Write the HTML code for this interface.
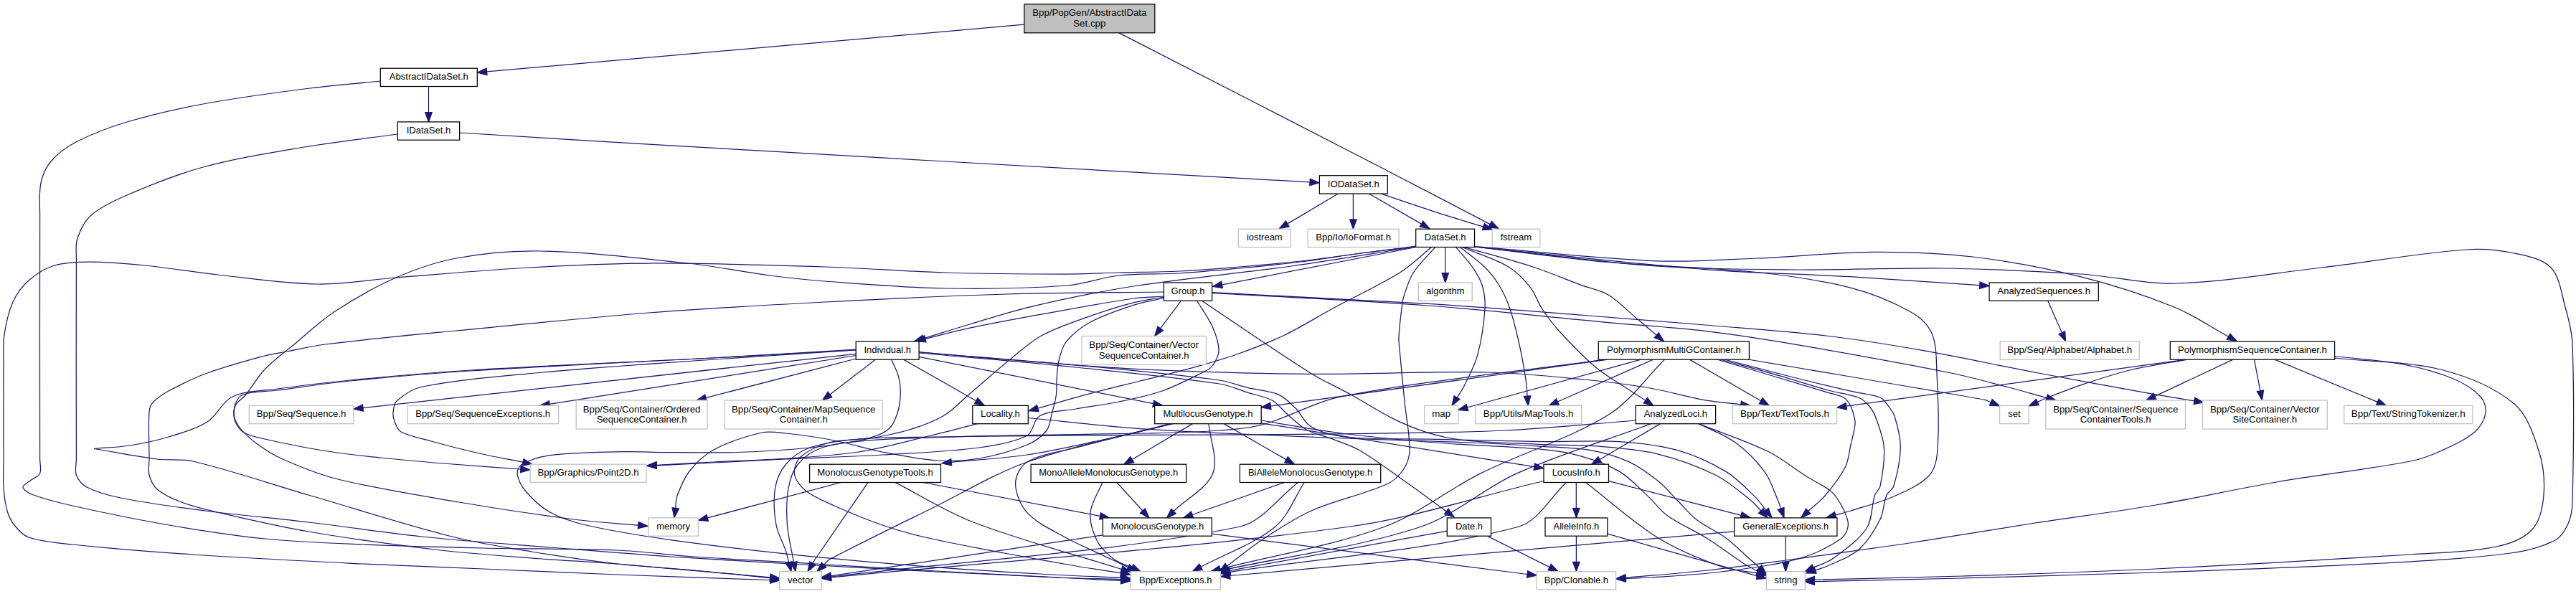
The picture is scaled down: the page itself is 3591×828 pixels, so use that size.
<!DOCTYPE html>
<html><head><meta charset="utf-8"><title>Bpp/PopGen/AbstractIDataSet.cpp include graph</title>
<style>html,body{margin:0;padding:0;background:#fff}svg{display:block}</style></head>
<body>
<svg width="3591" height="828" viewBox="0 0 3591 828">
<rect width="3591" height="828" fill="#fff"/>
<g fill="none" stroke="#191970" stroke-width="1.25">
<path d="M1427.8,34.2 L678.5,99.9"/>
<path d="M1559.5,45.6 C1682.4,108.7 1805.4,171.7 1928.2,235.0 C1978.0,260.7 2027.5,286.7 2077.2,312.6"/>
<path d="M597.5,120.3 L597.5,156.7"/>
<path d="M530.0,113.0 C494.7,116.7 459.2,119.4 424.0,124.0 C376.9,130.1 329.7,136.3 283.0,145.0 C247.3,151.6 211.7,159.6 177.0,170.0 C152.7,177.3 128.4,186.4 106.0,198.0 C93.0,204.7 80.3,214.1 71.0,225.0 C64.0,233.1 59.2,244.4 57.0,255.0 C54.0,269.4 55.7,285.0 55.6,300.0 C55.2,413.3 55.6,526.7 55.6,640.0 C55.6,646.7 58.1,654.6 55.6,660.0 C53.5,664.6 46.4,666.5 42.0,670.0 C38.5,672.8 31.7,676.1 32.0,679.0 C32.4,682.4 39.2,687.2 44.0,689.0 C62.2,695.9 81.8,700.7 101.0,705.0 C145.8,715.0 190.8,724.3 236.0,732.0 C280.5,739.6 325.1,746.5 370.0,751.0 C414.8,755.5 460.0,757.1 505.0,759.0 C561.0,761.4 617.0,762.7 673.0,764.0 C735.3,765.4 797.7,764.5 860.0,767.0 C896.1,768.5 932.0,773.5 968.0,776.0 C1024.3,779.9 1080.7,782.7 1137.0,786.0 C1193.0,789.3 1249.0,792.8 1305.0,796.0 C1361.0,799.2 1417.0,802.1 1473.0,805.0 C1502.9,806.5 1532.8,807.9 1562.7,809.4"/>
<path d="M640.6,185.0 C727.1,190.3 813.5,195.7 900.0,200.8 C1033.3,208.7 1166.7,216.3 1300.0,224.0 C1475.3,234.1 1650.7,244.0 1826.0,253.9"/>
<path d="M554.0,187.0 C510.7,193.0 467.1,197.7 424.0,205.0 C376.8,213.0 329.1,220.5 283.0,233.0 C246.8,242.8 211.5,257.2 177.0,272.0 C159.5,279.5 140.9,287.9 127.0,300.0 C117.9,307.9 111.9,320.6 108.0,332.0 C105.0,340.6 106.4,350.7 106.4,360.0 C105.9,453.3 106.4,546.7 106.4,640.0 C106.4,647.3 104.0,655.6 106.4,662.0 C108.9,668.6 114.6,675.7 121.0,679.0 C135.1,686.3 151.9,690.8 168.0,694.0 C206.9,701.8 246.6,706.9 286.0,712.0 C333.9,718.2 382.0,722.3 430.0,728.0 C486.0,734.6 541.9,743.2 598.0,749.0 C654.2,754.8 710.7,758.5 767.0,763.0 C823.0,767.5 879.0,772.2 935.0,776.0 C991.0,779.8 1047.0,782.8 1103.0,786.0 C1170.3,789.8 1237.7,793.5 1305.0,797.0 C1361.0,799.9 1417.0,802.7 1473.0,805.0 C1502.9,806.2 1532.8,806.7 1562.7,807.6"/>
<path d="M1908.8,270.2 L1981.5,312.1"/>
<path d="M1886.4,270.2 L1886.4,305.9"/>
<path d="M1865.0,270.2 L1794.8,311.9"/>
<path d="M1925.6,270.2 C1950.0,278.4 1974.4,286.9 1998.9,294.8 C2021.8,302.2 2044.8,309.0 2067.8,316.1"/>
<path d="M2014.6,344.5 L2014.7,380.7"/>
<path d="M1974.0,343.0 C1948.3,346.3 1922.7,349.7 1897.0,353.0 C1869.0,356.7 1841.1,360.8 1813.0,364.0 C1784.7,367.2 1756.4,369.7 1728.0,372.0 C1700.0,374.3 1672.0,376.7 1644.0,378.0 C1616.0,379.3 1588.0,379.3 1560.0,380.0 C1535.7,380.6 1511.3,382.0 1487.0,382.0 C1430.7,382.0 1374.3,381.7 1318.0,380.0 C1262.0,378.3 1206.0,373.8 1150.0,372.0 C1068.4,369.4 986.7,366.8 905.0,367.0 C849.0,367.1 792.9,369.8 737.0,373.0 C675.3,376.5 613.7,382.2 552.0,387.0 C516.0,389.8 480.0,396.6 444.0,396.0 C397.0,395.2 349.9,388.0 303.0,383.0 C269.3,379.4 235.8,373.4 202.0,370.0 C176.8,367.4 151.3,365.0 126.0,365.0 C109.3,365.0 91.7,365.3 76.0,370.0 C63.0,373.9 50.2,382.0 40.0,391.0 C30.9,399.0 23.0,409.9 18.0,421.0 C11.7,434.9 8.4,450.8 6.0,466.0 C4.1,477.8 5.1,490.0 5.0,502.0 C4.7,548.0 5.0,594.0 5.0,640.0 C5.0,653.0 4.1,666.1 5.0,679.0 C5.8,690.1 7.0,701.4 10.0,712.0 C12.0,719.1 15.4,726.3 20.0,732.0 C25.4,738.7 32.0,746.3 40.0,749.0 C59.0,755.3 80.5,756.9 101.0,759.0 C156.9,764.9 212.9,769.3 269.0,773.0 C347.6,778.3 426.3,782.1 505.0,786.0 C561.0,788.8 617.0,790.6 673.0,793.0 C735.3,795.6 797.7,798.6 860.0,801.0 C931.2,803.8 1002.5,806.0 1073.7,808.5"/>
<path d="M2029.8,344.8 C2037.4,353.9 2045.8,362.4 2052.5,372.1 C2057.9,379.9 2063.3,388.3 2066.0,397.3 C2069.1,407.6 2070.7,419.1 2070.0,430.0 C2068.6,451.8 2065.4,474.2 2059.6,495.3 C2055.4,510.9 2047.1,525.4 2040.0,540.0 C2037.6,545.0 2034.1,549.4 2031.1,554.1"/>
<path d="M2056.0,344.0 C2140.3,353.0 2224.5,365.1 2309.0,371.0 C2376.1,375.7 2443.7,375.5 2511.0,376.0 C2578.3,376.5 2645.7,373.0 2713.0,374.0 C2775.4,375.0 2837.8,377.9 2900.0,382.0 C2944.8,384.9 2989.4,396.2 3034.0,395.0 C3101.4,393.2 3168.7,380.8 3236.0,373.0 C3303.4,365.2 3370.6,353.0 3438.0,348.0 C3460.3,346.3 3483.3,348.4 3505.0,353.0 C3522.7,356.7 3544.6,360.9 3556.0,373.0 C3568.2,385.9 3570.8,409.3 3576.0,428.0 C3580.8,444.9 3585.4,462.4 3586.0,480.0 C3588.7,553.1 3587.8,626.8 3586.0,700.0 C3585.8,710.2 3584.1,721.0 3580.0,730.0 C3576.1,738.6 3570.3,748.7 3562.0,753.0 C3543.6,762.4 3521.2,768.2 3500.0,771.0 C3441.2,778.8 3381.4,781.8 3322.0,785.0 C3216.4,790.8 3110.7,794.2 3005.0,798.0 C2915.0,801.2 2825.0,803.6 2735.0,806.0 C2666.4,807.8 2597.9,809.1 2529.3,810.7"/>
<path d="M2000.4,344.8 C1990.3,356.7 1978.2,367.5 1970.0,380.5 C1963.6,390.6 1960.3,402.8 1956.6,414.2 C1955.0,419.3 1954.6,424.7 1954.0,430.0 C1952.4,443.3 1950.5,456.7 1950.0,470.0 C1949.7,478.3 1951.1,486.7 1951.8,495.0 C1953.7,516.7 1955.9,538.3 1958.0,560.0 C1960.3,582.7 1965.5,605.6 1965.0,628.0 C1964.8,637.3 1961.2,647.4 1956.0,655.0 C1950.5,663.1 1942.2,670.9 1933.0,675.0 C1899.5,689.9 1861.7,697.0 1828.0,712.0 C1804.1,722.6 1782.0,737.6 1760.0,752.0 C1742.8,763.3 1727.1,776.7 1710.6,789.0"/>
<path d="M2035.7,344.8 C2046.9,353.9 2059.1,362.0 2069.4,372.0 C2077.1,379.5 2084.0,388.1 2089.6,397.3 C2095.8,407.5 2100.8,418.7 2104.7,430.0 C2110.3,446.3 2114.2,463.2 2118.0,480.0 C2121.6,496.2 2124.5,512.6 2127.0,529.0 C2128.2,536.7 2128.4,544.4 2129.1,552.2"/>
<path d="M1974.0,344.0 C1948.3,347.0 1922.6,349.7 1897.0,353.0 C1869.0,356.7 1841.1,361.5 1813.0,365.0 C1784.7,368.5 1756.4,371.3 1728.0,374.0 C1700.0,376.6 1672.0,379.3 1644.0,381.0 C1616.0,382.7 1587.8,381.0 1560.0,384.0 C1535.4,386.7 1511.6,396.2 1487.0,398.0 C1431.0,402.2 1374.3,403.0 1318.0,402.0 C1262.0,401.0 1205.9,396.1 1150.0,392.0 C1124.3,390.1 1098.6,387.3 1073.0,384.0 C1034.9,379.0 997.2,371.1 959.0,367.0 C890.9,359.7 822.3,351.5 754.0,350.0 C714.7,349.1 674.6,352.9 636.0,360.0 C607.3,365.3 578.8,375.3 552.0,387.0 C522.5,399.9 494.0,416.3 467.0,434.0 C446.7,447.3 428.8,464.4 410.0,480.0 C396.2,491.4 381.4,502.1 369.0,515.0 C358.7,525.8 351.5,539.4 342.0,551.0 C338.1,555.7 332.1,559.0 329.0,564.0 C326.8,567.6 326.0,572.7 326.0,577.0 C326.0,581.3 326.9,586.2 329.0,590.0 C331.6,594.9 335.2,600.4 340.0,603.0 C348.5,607.7 359.1,609.8 369.0,612.0 C395.8,618.1 422.8,623.6 450.0,628.0 C476.5,632.3 503.3,635.1 530.0,638.0 C559.3,641.1 588.6,643.6 618.0,646.0 C653.9,648.9 689.8,651.3 725.7,654.0"/>
<path d="M1974.0,344.5 L1703.6,396.9"/>
<path d="M1974.0,344.0 C1916.0,353.0 1858.1,362.9 1800.0,371.0 C1726.8,381.2 1653.0,387.6 1580.0,399.0 C1531.7,406.5 1483.6,416.7 1436.0,427.8 C1407.6,434.4 1379.9,443.7 1352.0,452.0 C1330.4,458.4 1308.9,465.3 1287.3,471.9"/>
<path d="M1995.3,344.8 C1980.7,356.5 1967.3,370.2 1951.4,380.0 C1921.2,398.7 1888.4,413.5 1857.0,430.5 C1834.5,442.7 1812.9,456.5 1789.8,467.5 C1768.0,477.9 1745.2,486.5 1722.4,494.5 C1700.3,502.2 1677.6,508.5 1655.0,514.7 C1632.7,520.8 1610.1,525.9 1587.7,531.5 C1565.3,537.1 1542.7,542.4 1520.4,548.4 C1495.8,555.0 1471.3,562.2 1446.8,569.1"/>
<path d="M2055.5,343.8 C2117.7,351.0 2179.7,359.9 2242.0,365.5 C2309.2,371.6 2377.0,372.0 2444.0,379.0 C2489.2,383.7 2534.9,389.7 2578.8,400.8 C2607.9,408.2 2637.1,420.0 2663.0,434.5 C2675.2,441.3 2687.6,452.4 2693.0,464.8 C2700.0,480.9 2699.1,501.5 2700.0,520.0 C2701.7,556.6 2703.6,593.9 2700.7,630.0 C2699.8,641.8 2696.4,655.6 2688.5,663.7 C2676.1,676.3 2657.0,684.4 2640.0,692.0 C2620.8,700.5 2600.1,705.6 2580.0,712.0 C2573.0,714.2 2565.9,716.0 2558.8,718.0"/>
<path d="M2042.4,344.8 C2073.8,353.9 2105.6,361.9 2136.7,372.0 C2159.5,379.4 2181.5,389.0 2204.0,397.3 C2216.6,402.0 2230.6,404.1 2242.0,411.0 C2256.8,419.9 2269.0,433.4 2282.4,444.6 C2291.4,452.1 2300.3,459.7 2309.3,467.2"/>
<path d="M2055.5,343.6 C2140.1,350.3 2224.7,360.3 2309.4,363.8 C2356.2,365.7 2403.2,361.9 2450.0,360.0 C2504.2,357.8 2558.3,351.7 2612.4,351.3 C2658.3,351.0 2704.5,352.6 2750.0,358.0 C2800.4,364.0 2850.8,373.4 2900.0,385.7 C2944.3,396.8 2988.4,410.9 3030.7,428.0 C3057.3,438.7 3081.2,455.4 3106.5,469.2"/>
<path d="M2039.0,344.8 C2060.3,353.9 2083.3,360.4 2103.0,372.0 C2114.8,379.0 2124.8,390.0 2133.4,400.7 C2140.3,409.3 2143.3,420.8 2149.4,430.0 C2156.8,441.2 2164.9,452.1 2174.0,462.0 C2190.0,479.4 2206.4,496.9 2224.6,512.0 C2240.1,524.9 2258.1,534.8 2275.0,546.0 C2281.2,550.1 2287.6,554.1 2293.8,558.2"/>
<path d="M2055.5,344.0 C2162.6,354.5 2269.5,367.1 2376.7,375.6 C2443.9,381.0 2511.5,381.8 2578.8,385.7 C2639.2,389.2 2699.5,393.7 2759.8,397.6"/>
<path d="M1622.0,407.0 C1549.0,408.0 1476.0,407.8 1403.0,410.0 C1318.6,412.5 1234.3,416.6 1150.0,421.0 C1068.3,425.3 986.6,429.7 905.0,436.0 C815.2,443.0 725.6,452.3 636.0,461.0 C575.0,466.9 513.8,472.5 453.0,480.0 C435.2,482.2 417.7,486.6 400.0,490.0 C389.7,492.0 379.2,493.3 369.0,496.0 C342.2,503.3 315.1,510.5 289.0,520.0 C270.4,526.8 252.4,535.6 235.0,545.0 C227.1,549.3 219.0,554.6 213.0,561.0 C210.0,564.3 208.3,569.4 208.0,574.0 C206.6,595.7 208.0,618.0 208.0,640.0 C208.0,647.3 206.2,655.1 208.0,662.0 C209.9,669.1 213.4,677.3 219.0,682.0 C228.4,689.9 241.1,695.5 253.0,700.0 C269.1,706.1 286.1,710.1 303.0,714.0 C345.1,723.8 387.4,733.7 430.0,741.0 C488.4,751.0 547.2,759.0 606.0,766.0 C650.8,771.3 696.0,774.5 741.0,778.0 C780.6,781.1 820.4,782.8 860.0,786.0 C931.3,791.7 1002.5,798.6 1073.8,804.8"/>
<path d="M1622.4,415.5 C1608.3,418.8 1593.8,420.8 1580.0,425.3 C1559.8,431.9 1539.0,438.7 1520.4,448.8 C1507.9,455.6 1495.8,465.2 1486.7,475.8 C1481.2,482.2 1478.9,491.6 1476.6,500.0 C1474.4,508.1 1474.0,516.8 1473.3,525.3 C1472.6,533.7 1473.5,542.2 1472.4,550.5 C1471.2,559.0 1468.8,567.4 1466.5,575.8 C1464.3,583.9 1463.9,593.7 1459.0,600.0 C1452.4,608.4 1442.2,615.8 1432.0,620.0 C1410.9,628.8 1387.7,635.0 1365.0,639.0 C1346.4,642.3 1326.9,643.3 1308.0,642.0 C1281.9,640.3 1255.8,635.0 1230.0,630.0 C1207.5,625.7 1185.5,618.4 1163.0,614.0 C1140.9,609.7 1118.4,606.4 1096.0,604.0 C1084.7,602.8 1072.9,600.5 1062.0,603.0 C1039.2,608.2 1015.6,616.0 995.0,627.0 C981.9,634.0 970.2,645.4 961.0,657.0 C953.2,666.7 948.4,679.3 944.0,691.0 C942.0,696.4 942.5,702.6 941.7,708.4"/>
<path d="M1622.4,414.0 C1608.3,416.6 1593.9,418.3 1580.0,421.9 C1559.9,427.1 1540.0,433.4 1520.4,440.4 C1497.6,448.5 1474.1,456.0 1453.0,467.3 C1437.1,475.8 1423.5,488.6 1409.3,500.0 C1389.8,515.7 1371.2,532.6 1352.0,548.8 C1339.6,559.3 1328.5,571.9 1314.6,580.0 C1299.1,589.0 1281.4,595.0 1264.0,600.0 C1242.2,606.3 1219.4,610.0 1197.0,614.0 C1174.8,618.0 1152.5,621.8 1130.0,624.0 C1096.1,627.3 1062.0,629.4 1028.0,630.5 C994.4,631.6 960.7,630.7 927.0,630.5 C907.2,630.4 887.5,629.2 867.7,629.7 C834.0,630.6 799.9,630.4 766.7,634.7 C752.7,636.5 737.6,641.5 726.3,648.2 C722.5,650.5 720.5,657.3 721.3,661.7 C722.7,669.6 727.4,678.6 733.0,685.0 C742.5,696.0 754.0,706.9 766.7,714.0 C782.0,722.6 799.7,728.0 817.0,732.0 C855.8,740.9 895.5,747.0 935.0,752.6 C991.0,760.6 1047.2,766.9 1103.5,772.8 C1165.6,779.3 1227.8,784.7 1290.0,789.6 C1343.3,793.8 1396.6,796.9 1450.0,800.0 C1487.5,802.2 1524.9,803.6 1562.4,805.4"/>
<path d="M1668.5,419.3 C1675.7,431.2 1684.4,442.4 1690.0,455.0 C1694.6,465.3 1699.0,477.2 1699.0,488.0 C1699.0,495.5 1694.5,503.9 1690.0,510.0 C1686.5,514.6 1680.4,517.3 1675.0,520.0 C1657.0,529.0 1638.9,538.4 1620.0,545.0 C1600.6,551.7 1580.2,555.8 1560.0,560.0 C1540.2,564.1 1520.0,566.4 1500.0,570.0 C1483.0,573.1 1463.0,572.4 1449.0,580.0 C1440.4,584.7 1440.8,602.4 1432.0,607.0 C1412.8,617.0 1387.8,621.0 1365.0,624.0 C1320.4,630.0 1275.0,631.3 1230.0,634.0 C1185.4,636.7 1140.7,637.9 1096.0,640.0 C1062.3,641.6 1028.7,643.3 995.0,645.0 C968.4,646.3 941.9,647.6 915.3,648.9"/>
<path d="M1646.5,419.2 L1617.6,457.9"/>
<path d="M1689.6,408.3 C1789.7,414.2 1890.0,418.5 1990.0,426.0 C2074.1,432.3 2158.0,441.9 2242.0,449.6 C2286.9,453.7 2332.0,456.1 2376.7,461.4 C2421.8,466.8 2466.7,474.0 2511.4,481.6 C2581.1,493.5 2650.7,506.0 2720.0,520.0 C2746.9,525.4 2773.4,533.1 2800.0,540.0 C2817.8,544.6 2835.4,549.7 2853.2,554.5"/>
<path d="M1689.6,407.6 C1789.7,412.9 1889.9,417.2 1990.0,423.4 C2062.9,427.9 2135.6,433.9 2208.4,439.5 C2264.5,443.8 2320.6,448.3 2376.7,453.0 C2432.8,457.8 2489.1,461.5 2545.0,468.0 C2590.1,473.3 2635.0,480.5 2679.8,488.4 C2733.8,497.9 2787.5,509.8 2841.4,520.0 C2894.3,530.0 2947.4,539.7 3000.4,549.2 C3019.8,552.7 3039.4,555.6 3058.9,558.8"/>
<path d="M1622.4,413.0 C1608.3,414.0 1594.0,413.9 1580.0,416.0 C1537.5,422.2 1495.3,430.3 1453.0,437.9 C1419.3,444.0 1385.5,450.1 1352.0,457.2 C1331.2,461.6 1310.6,467.3 1289.9,472.3"/>
<path d="M1675.3,419.3 C1725.8,452.9 1775.5,487.7 1826.8,520.0 C1844.8,531.3 1864.4,539.7 1883.0,550.0 C1902.8,560.9 1921.7,573.6 1942.0,583.6 C1958.2,591.6 1975.2,598.6 1992.5,603.8 C2008.9,608.7 2026.0,612.2 2043.0,613.9 C2078.5,617.5 2114.3,618.0 2150.0,619.6 C2176.9,620.8 2204.0,620.1 2230.8,622.3 C2257.9,624.6 2285.5,626.5 2311.7,633.1 C2339.4,640.0 2367.1,650.0 2392.5,662.7 C2410.2,671.5 2425.4,685.4 2441.0,697.8 C2446.2,701.9 2450.2,707.3 2454.8,712.0"/>
<path d="M1193.0,487.0 C1132.3,490.7 1071.7,494.7 1011.0,498.0 C892.7,504.4 774.3,508.8 656.0,516.0 C599.9,519.4 543.9,524.6 488.0,530.0 C454.3,533.3 420.6,537.3 387.0,542.0 C365.9,545.0 342.4,544.4 324.0,553.0 C309.7,559.7 302.7,579.4 289.0,588.0 C273.0,598.1 253.4,603.4 235.0,609.0 C217.4,614.4 199.2,618.1 181.0,621.0 C164.5,623.6 147.7,624.0 131.0,625.5"/>
<path d="M131.0,625.5 C160.3,630.3 189.5,636.3 219.0,640.0 C235.5,642.1 252.8,639.2 269.0,643.0 C323.2,655.8 376.3,674.4 430.0,690.0 C496.7,709.4 562.8,730.9 630.0,748.0 C666.5,757.3 703.9,762.9 741.0,769.0 C780.5,775.5 820.2,781.4 860.0,786.0 C895.9,790.1 932.0,791.7 968.0,795.0 C1003.3,798.2 1038.5,802.1 1073.8,805.7"/>
<path d="M1193.0,488.0 C1132.3,491.3 1071.7,494.7 1011.0,498.0 C892.7,504.4 774.3,509.5 656.0,517.0 C599.9,520.5 543.9,525.4 488.0,531.0 C454.2,534.4 420.7,539.5 387.0,544.0 C370.3,546.2 350.8,544.6 337.0,551.0 C330.5,554.0 326.9,564.7 326.0,572.0 C325.2,578.7 328.1,587.1 332.0,593.0 C338.1,602.1 347.0,610.2 356.0,617.0 C367.7,625.9 380.5,634.0 394.0,640.0 C418.9,651.0 444.5,661.5 471.0,668.0 C526.5,681.5 583.5,690.4 640.0,700.0 C693.2,709.0 746.5,717.1 800.0,724.0 C829.8,727.8 859.8,729.5 889.8,732.2"/>
<path d="M1242.6,501.3 C1246.0,509.3 1250.6,517.0 1252.7,525.3 C1254.8,533.4 1255.5,542.1 1255.2,550.5 C1254.9,559.0 1253.6,567.8 1251.0,575.8 C1248.6,583.3 1245.6,591.9 1240.0,597.0 C1233.0,603.3 1222.6,607.7 1213.0,610.0 C1194.6,614.4 1174.2,611.9 1156.0,617.0 C1141.8,620.9 1126.3,627.7 1116.0,637.0 C1110.1,642.3 1106.4,653.5 1107.5,661.0 C1108.7,669.2 1116.0,678.4 1123.0,684.0 C1134.5,693.1 1149.3,698.8 1163.0,705.0 C1184.9,714.8 1207.3,724.1 1230.0,732.0 C1249.6,738.8 1269.8,744.4 1290.0,749.0 C1326.4,757.4 1363.3,764.0 1400.0,771.0 C1433.3,777.3 1466.6,783.3 1500.0,789.0 C1520.8,792.6 1541.7,795.6 1562.6,798.9"/>
<path d="M1193.0,488.0 C1132.3,492.0 1071.6,495.7 1011.0,500.0 C926.3,506.0 841.5,511.2 757.0,519.0 C700.9,524.2 643.7,528.3 589.0,539.0 C575.7,541.6 562.6,550.4 553.0,559.0 C548.9,562.7 548.4,570.3 548.0,576.0 C547.7,580.6 549.2,585.7 551.0,590.0 C552.8,594.3 554.9,599.9 559.0,602.0 C571.5,608.3 586.9,611.1 601.0,615.0 C623.2,621.1 645.5,626.8 668.0,632.0 C688.2,636.6 708.6,640.2 729.0,644.4"/>
<path d="M1281.1,490.5 C1320.7,494.0 1360.3,497.9 1400.0,501.0 C1462.5,505.9 1525.1,511.7 1587.7,514.7 C1666.2,518.5 1744.9,520.7 1823.5,521.4 C1906.7,522.1 1989.9,517.4 2073.0,519.0 C2118.0,519.9 2162.9,524.7 2207.7,529.0 C2238.6,532.0 2269.4,535.8 2300.0,541.0 C2325.5,545.3 2350.5,553.0 2376.0,557.6 C2392.8,560.6 2409.9,561.7 2426.8,563.8"/>
<path d="M1193.2,493.3 L506.0,568.6"/>
<path d="M1193.2,495.5 L766.1,563.3"/>
<path d="M1193.2,500.0 L984.0,554.6"/>
<path d="M1220.6,501.1 L1156.9,549.9"/>
<path d="M1259.4,501.1 L1360.7,558.8"/>
<path d="M1281.1,492.0 C1354.1,498.7 1427.1,504.5 1500.0,512.0 C1566.8,518.9 1633.8,525.2 1700.0,535.0 C1713.8,537.0 1726.7,543.2 1740.0,547.4 C1751.3,551.0 1763.6,552.7 1773.7,558.3 C1782.2,563.0 1788.1,572.0 1795.6,578.5 C1803.8,585.5 1811.5,593.6 1820.8,598.7 C1832.2,604.9 1845.6,607.4 1857.9,612.2 C1870.6,617.2 1884.0,621.1 1895.7,628.0 C1918.0,641.1 1938.8,657.1 1960.0,672.0 C1978.9,685.3 1997.5,699.2 2016.2,712.8"/>
<path d="M1281.1,497.3 L1607.8,562.7"/>
<path d="M1281.1,491.0 C1354.1,497.0 1427.1,502.2 1500.0,509.0 C1566.7,515.2 1633.7,521.3 1700.0,530.0 C1713.7,531.8 1726.6,537.3 1740.0,540.6 C1753.9,544.0 1769.2,544.3 1782.0,549.9 C1791.5,554.1 1799.5,562.5 1807.0,570.0 C1813.5,576.5 1817.0,586.4 1824.0,592.0 C1831.1,597.7 1840.5,601.4 1849.4,603.8 C1863.0,607.5 1877.3,609.7 1891.5,610.5 C1925.0,612.5 1958.8,611.5 1992.5,612.2 C2045.0,613.2 2097.5,614.9 2150.0,615.6 C2185.9,616.1 2222.0,613.3 2257.8,615.6 C2284.9,617.3 2312.6,620.4 2338.6,627.7 C2362.0,634.3 2385.2,644.9 2406.0,657.4 C2421.1,666.5 2433.6,680.0 2446.4,692.4 C2452.2,698.0 2456.6,705.0 2461.6,711.3"/>
<path d="M1433.4,582.5 C1482.3,587.3 1531.0,593.2 1580.0,596.8 C1636.6,601.0 1693.3,603.3 1750.0,606.0 C1800.0,608.4 1850.0,610.2 1900.0,612.0 C1950.0,613.8 2000.0,614.9 2050.0,617.0 C2083.4,618.4 2116.7,620.2 2150.0,622.3 C2172.5,623.7 2195.3,623.8 2217.4,627.7 C2235.7,631.0 2254.2,636.2 2271.0,643.9 C2285.6,650.6 2299.0,660.7 2311.7,670.8 C2321.6,678.7 2329.6,688.8 2338.6,697.8 C2347.6,706.8 2355.5,717.0 2365.5,724.7 C2378.0,734.4 2393.3,740.5 2406.0,750.0 C2418.1,759.0 2428.7,770.0 2440.0,780.0 C2444.2,783.7 2448.3,787.4 2452.5,791.1"/>
<path d="M1363.8,590.4 C1341.9,595.9 1320.0,601.8 1298.0,607.0 C1264.4,615.0 1231.0,624.6 1197.0,630.0 C1163.7,635.3 1129.7,636.7 1096.0,639.0 C1062.4,641.3 1028.7,642.3 995.0,644.0 C968.4,645.4 941.9,646.9 915.3,648.3"/>
<path d="M2017.3,740.1 L1714.5,795.4"/>
<path d="M2073.2,747.1 L2160.2,790.6"/>
<path d="M1631.0,590.7 C1564.7,608.5 1496.4,621.2 1432.0,644.0 C1386.1,660.3 1343.9,686.4 1300.0,708.0 C1251.9,731.7 1203.4,755.2 1156.0,780.0 C1152.9,781.6 1151.0,784.9 1148.5,787.4"/>
<path d="M1758.2,586.0 C1795.8,592.0 1833.2,599.2 1871.0,604.0 C1913.8,609.5 1956.9,613.5 2000.0,617.0 C2049.9,621.0 2100.2,621.8 2150.0,626.4 C2168.2,628.1 2186.5,630.8 2204.0,635.8 C2222.5,641.1 2241.5,647.6 2257.8,657.4 C2272.8,666.4 2284.9,680.4 2298.0,692.4 C2307.3,701.0 2314.7,712.0 2325.0,719.3 C2341.7,731.2 2361.5,739.0 2379.0,750.0 C2396.5,760.9 2412.7,773.8 2430.0,785.0 C2436.6,789.3 2443.8,792.7 2450.8,796.5"/>
<path d="M1634.5,590.7 C1589.7,601.8 1544.7,612.2 1500.0,624.0 C1477.2,630.0 1451.0,632.8 1432.0,644.0 C1422.8,649.4 1415.6,663.7 1415.6,674.0 C1415.6,687.2 1422.6,704.4 1432.0,714.7 C1445.1,729.0 1465.3,738.2 1483.0,748.0 C1504.6,760.0 1527.7,769.3 1550.0,780.0 C1557.6,783.6 1565.1,787.3 1572.6,790.9"/>
<path d="M1685.0,590.6 C1686.9,613.7 1698.5,640.5 1690.7,659.9 C1682.1,681.1 1654.2,695.0 1636.0,712.6"/>
<path d="M1662.5,590.6 L1578.2,640.5"/>
<path d="M1706.0,590.6 L1793.0,640.6"/>
<path d="M1634.5,590.7 C1600.7,598.5 1566.9,606.7 1533.0,614.0 C1499.4,621.2 1465.9,629.0 1432.0,634.0 C1397.0,639.1 1361.5,640.9 1326.2,644.4"/>
<path d="M1758.2,589.8 L2138.9,650.6"/>
<path d="M1537.4,745.9 L1158.3,802.8"/>
<path d="M1689.3,744.2 L2129.0,800.5"/>
<path d="M1536.8,672.6 C1531.2,686.6 1521.2,700.4 1520.0,714.7 C1518.9,727.8 1523.9,743.1 1530.0,755.0 C1535.1,764.9 1544.6,773.2 1553.6,780.0 C1560.6,785.3 1569.8,787.4 1577.9,791.2"/>
<path d="M1556.9,672.5 L1592.9,712.0"/>
<path d="M1809.6,672.5 C1782.0,693.2 1759.9,727.8 1726.7,734.5 C1542.8,771.6 1347.8,780.8 1158.3,804.0"/>
<path d="M1818.2,672.5 C1804.6,693.2 1796.0,719.3 1777.4,734.5 C1747.9,758.5 1708.4,771.7 1674.0,790.2"/>
<path d="M1790.4,672.5 L1662.1,717.5"/>
<path d="M1210.0,672.6 C1185.3,708.4 1160.6,744.1 1136.0,780.0 C1134.8,781.7 1133.9,783.5 1132.8,785.3"/>
<path d="M1172.3,672.5 L986.3,721.9"/>
<path d="M1247.8,672.4 C1284.2,690.9 1319.0,713.4 1357.0,728.0 C1424.2,753.8 1494.7,771.7 1563.5,793.5"/>
<path d="M1286.7,672.5 L1533.6,719.4"/>
<path d="M2210.6,672.6 C2244.3,698.4 2275.9,727.8 2311.7,750.0 C2339.0,766.9 2369.8,779.3 2400.0,790.0 C2415.6,795.5 2432.9,795.8 2449.3,798.7"/>
<path d="M2152.0,670.5 C2060.9,691.8 1971.2,722.0 1878.6,734.5 C1640.0,766.8 1398.4,781.5 1158.3,805.0"/>
<path d="M2183.5,672.5 C2160.9,693.2 2144.7,726.8 2115.9,734.5 C1988.4,768.4 1848.3,776.4 1714.5,797.3"/>
<path d="M2197.3,672.5 L2197.3,708.6"/>
<path d="M2242.5,670.6 L2427.1,718.3"/>
<path d="M2240.8,744.2 L2449.6,802.9"/>
<path d="M2197.4,747.1 L2197.4,783.3"/>
<path d="M2417.6,740.8 L1714.6,802.5"/>
<path d="M2489.3,747.1 L2489.3,783.3"/>
<path d="M2241.0,500.7 C2117.7,518.0 1992.9,529.5 1871.0,552.6 C1832.6,559.9 1797.7,581.6 1760.0,592.0 C1740.7,597.4 1720.1,598.5 1700.0,600.0 C1666.8,602.5 1633.3,603.2 1600.0,604.0 C1533.3,605.6 1466.7,605.7 1400.0,607.0 C1366.7,607.7 1333.3,608.8 1300.0,610.0 C1271.2,611.0 1242.3,611.1 1213.6,613.7 C1190.9,615.8 1167.1,617.0 1146.0,624.0 C1133.4,628.1 1120.7,637.0 1112.5,647.0 C1105.1,656.0 1101.1,669.2 1099.0,681.0 C1096.1,697.3 1096.3,714.8 1097.4,731.5 C1098.5,747.8 1103.0,763.8 1105.8,780.0 C1106.0,781.2 1106.3,782.4 1106.5,783.6"/>
<path d="M2287.5,501.1 L2045.4,568.0"/>
<path d="M2437.0,501.0 C2485.3,509.2 2533.7,517.3 2582.0,525.5 C2621.3,532.2 2660.7,538.9 2700.0,545.7 C2722.3,549.6 2744.8,552.9 2767.0,557.4 C2769.9,558.0 2772.6,559.7 2775.3,560.9"/>
<path d="M2398.5,501.0 C2426.0,508.6 2453.6,515.9 2481.0,523.8 C2503.5,530.3 2525.8,537.8 2548.4,544.0 C2562.3,547.8 2577.1,549.2 2590.5,554.0 C2595.7,555.9 2600.3,559.9 2604.0,564.0 C2608.1,568.6 2611.8,574.2 2614.0,580.0 C2619.3,594.1 2625.3,609.0 2626.4,623.9 C2627.7,641.6 2624.4,660.4 2621.0,677.8 C2620.1,682.4 2615.1,685.5 2613.6,690.0 C2608.7,705.1 2610.4,723.7 2602.0,736.5 C2591.0,753.2 2572.1,766.0 2555.5,778.3 C2547.4,784.3 2537.2,787.0 2528.0,791.3"/>
<path d="M2320.5,501.1 C2294.5,526.8 2273.1,559.1 2242.5,578.0 C2187.6,612.0 2122.5,630.7 2063.9,659.9 C2018.1,682.8 1977.1,716.9 1929.3,734.5 C1856.1,761.4 1777.0,773.7 1700.9,793.2"/>
<path d="M2403.6,501.0 C2435.1,509.2 2466.5,517.6 2498.0,525.5 C2525.9,532.5 2553.9,539.2 2582.0,545.7 C2594.9,548.7 2608.8,549.5 2620.8,554.0 C2625.1,555.6 2628.1,560.3 2631.0,564.0 C2634.8,568.9 2639.2,574.1 2641.0,580.0 C2645.3,594.0 2649.5,609.2 2649.3,623.9 C2649.1,641.8 2644.8,660.7 2639.8,677.8 C2638.4,682.7 2631.9,685.3 2630.0,690.0 C2625.5,700.9 2626.0,714.3 2620.6,724.8 C2612.8,739.9 2603.1,755.8 2590.4,766.7 C2577.9,777.5 2560.4,782.8 2545.0,790.0 C2540.4,792.1 2535.4,793.2 2530.6,794.8"/>
<path d="M2304.7,501.1 L2171.4,560.0"/>
<path d="M2355.2,501.1 L2454.7,558.7"/>
<path d="M2241.6,501.1 L1771.4,566.0"/>
<path d="M2393.5,501.0 C2422.7,509.7 2451.8,518.3 2481.0,527.0 C2503.5,533.7 2525.9,540.5 2548.4,547.3 C2555.6,549.5 2563.6,550.5 2570.0,554.0 C2573.7,556.1 2576.6,560.2 2578.7,564.0 C2581.4,568.9 2583.2,574.5 2584.6,580.0 C2585.6,583.7 2586.4,587.8 2586.0,591.6 C2584.9,601.1 2582.2,610.6 2580.0,620.0 C2577.7,630.3 2577.1,641.5 2572.5,650.8 C2565.5,664.8 2555.2,677.8 2545.0,690.0 C2537.9,698.4 2528.8,705.0 2520.7,712.5"/>
<path d="M3052.0,500.7 C3025.0,505.6 2997.7,509.2 2971.0,515.5 C2948.3,520.9 2926.1,528.3 2904.0,535.7 C2885.8,541.8 2867.9,549.0 2850.0,556.0 C2846.7,557.3 2843.6,559.0 2840.4,560.4"/>
<path d="M3254.6,499.0 C3304.4,504.5 3356.1,503.3 3404.0,515.5 C3439.6,524.6 3477.8,540.4 3505.0,563.0 C3522.8,577.9 3531.6,605.1 3539.0,628.0 C3545.3,647.5 3547.7,669.8 3546.0,690.0 C3544.7,706.4 3540.5,726.6 3530.0,738.0 C3518.5,750.6 3497.9,758.3 3480.0,762.0 C3441.2,770.0 3400.1,770.4 3360.0,773.0 C3241.7,780.7 3123.4,787.3 3005.0,793.0 C2915.4,797.3 2825.7,800.1 2736.0,803.0 C2667.1,805.2 2598.2,806.4 2529.3,808.2"/>
<path d="M3254.6,496.5 C3286.4,500.3 3318.6,502.0 3350.0,508.0 C3373.8,512.5 3397.8,518.8 3420.0,528.0 C3433.8,533.8 3448.2,542.5 3458.0,553.0 C3463.2,558.5 3466.2,568.7 3465.0,576.0 C3463.5,585.1 3457.4,595.7 3450.0,602.0 C3437.0,613.1 3420.0,620.7 3404.0,628.0 C3390.0,634.4 3375.2,640.1 3360.0,643.0 C3298.2,654.8 3235.2,661.3 3173.0,672.0 C3116.8,681.7 3061.2,694.5 3005.0,704.0 C2949.2,713.5 2893.0,720.4 2837.0,729.0 C2780.6,737.7 2724.4,747.5 2668.0,756.0 C2612.1,764.4 2556.0,771.9 2500.0,779.5 C2460.0,784.9 2420.1,790.6 2380.0,795.0 C2342.2,799.2 2304.2,801.9 2266.2,805.3"/>
<path d="M3170.7,501.1 L3314.3,560.3"/>
<path d="M3047.8,501.1 L2573.8,566.2"/>
<path d="M3142.4,501.1 L3150.9,544.9"/>
<path d="M3113.0,501.1 L3003.9,552.4"/>
<path d="M2280.1,586.0 C2220.1,590.7 2160.1,597.2 2100.0,600.0 C2023.8,603.5 1947.3,603.7 1871.0,604.8 C1814.0,605.7 1757.0,605.7 1700.0,606.0 C1633.3,606.4 1566.7,606.5 1500.0,607.0 C1433.3,607.5 1366.7,607.9 1300.0,609.0 C1265.6,609.6 1230.9,609.0 1196.7,612.0 C1173.9,614.0 1150.2,616.7 1129.0,624.0 C1116.5,628.3 1104.1,637.1 1095.7,647.0 C1088.0,656.1 1082.4,669.0 1080.5,681.0 C1077.9,697.2 1079.2,715.1 1082.0,731.5 C1084.2,744.3 1091.5,756.1 1095.7,768.6 C1097.4,773.6 1098.3,778.8 1099.7,783.8"/>
<path d="M2367.7,590.6 C2400.0,603.5 2433.6,614.1 2464.7,629.3 C2483.9,638.7 2500.5,652.8 2518.6,664.3 C2530.2,671.7 2543.6,677.0 2553.6,685.9 C2560.7,692.2 2565.5,701.4 2569.8,710.0 C2573.1,716.7 2576.9,724.8 2576.4,731.8 C2576.0,738.2 2572.5,746.6 2567.0,750.4 C2550.0,762.1 2529.5,772.6 2509.0,778.3 C2473.8,788.1 2436.5,792.3 2400.0,797.0 C2366.9,801.2 2333.4,802.7 2300.0,805.0 C2288.6,805.8 2277.3,806.0 2265.9,806.4"/>
<path d="M2301.7,590.6 C2239.3,613.7 2175.1,632.8 2114.5,659.9 C2067.8,680.8 2028.2,718.6 1980.0,734.5 C1893.2,763.2 1799.7,774.0 1709.6,793.7"/>
<path d="M2314.4,590.6 L2230.1,640.5"/>
<path d="M2368.2,590.6 C2385.3,599.4 2404.1,605.8 2419.4,617.0 C2434.6,628.1 2448.7,642.3 2459.8,657.4 C2468.5,669.2 2472.7,684.2 2478.7,697.8 C2480.3,701.4 2481.3,705.3 2482.6,709.0"/>
<path d="M2854.8,419.2 L2874.3,463.7"/>
</g>
<g fill="#191970" stroke="#191970" stroke-width="1.25" stroke-linejoin="miter">
<polygon points="665.3,101.1 678.1,95.3 679.0,104.6"/>
<polygon points="2089.0,318.7 2075.0,316.7 2079.4,308.4"/>
<polygon points="597.5,170.0 592.8,156.7 602.2,156.7"/>
<polygon points="1576.0,810.0 1562.5,814.0 1562.9,804.7"/>
<polygon points="1839.3,254.7 1825.8,258.6 1826.3,249.3"/>
<polygon points="1576.0,808.0 1562.6,812.3 1562.8,802.9"/>
<polygon points="1993.0,318.7 1979.1,316.1 1983.8,308.0"/>
<polygon points="1886.4,319.2 1881.7,305.9 1891.1,305.9"/>
<polygon points="1783.4,318.7 1792.4,307.9 1797.2,315.9"/>
<polygon points="2080.5,320.0 2066.4,320.5 2069.2,311.6"/>
<polygon points="2014.8,394.0 2010.1,380.7 2019.4,380.6"/>
<polygon points="1087.0,809.0 1073.5,813.2 1073.9,803.9"/>
<polygon points="2024.0,565.4 2027.1,551.7 2035.0,556.6"/>
<polygon points="2516.0,811.0 2529.2,806.0 2529.4,815.4"/>
<polygon points="1700.0,797.0 1707.8,785.3 1713.4,792.8"/>
<polygon points="2130.3,565.4 2124.4,552.6 2133.8,551.7"/>
<polygon points="739.0,655.0 725.4,658.7 726.1,649.4"/>
<polygon points="1690.5,399.4 1702.7,392.3 1704.4,401.5"/>
<polygon points="1274.6,475.8 1285.9,467.4 1288.7,476.4"/>
<polygon points="1434.0,572.7 1445.5,564.6 1448.1,573.6"/>
<polygon points="2546.0,721.6 2557.5,713.5 2560.1,722.5"/>
<polygon points="2319.5,475.8 2306.3,470.8 2312.3,463.7"/>
<polygon points="3118.2,475.5 3104.3,473.3 3108.7,465.1"/>
<polygon points="2305.0,565.4 2291.3,562.1 2296.4,554.3"/>
<polygon points="2773.1,398.5 2759.5,402.3 2760.1,393.0"/>
<polygon points="1087.0,806.0 1073.3,809.5 1074.2,800.2"/>
<polygon points="940.0,721.6 937.1,707.8 946.4,709.0"/>
<polygon points="1575.7,806.0 1562.2,810.0 1562.6,800.7"/>
<polygon points="902.0,649.5 915.1,644.2 915.5,653.5"/>
<polygon points="1609.7,468.5 1613.9,455.1 1621.4,460.7"/>
<polygon points="2866.0,558.0 2851.9,559.0 2854.4,550.0"/>
<polygon points="3072.0,561.0 3058.1,563.4 3059.6,554.2"/>
<polygon points="1277.0,475.5 1288.8,467.8 1291.0,476.9"/>
<polygon points="2464.0,721.6 2451.4,715.3 2458.1,708.8"/>
<polygon points="1087.0,807.0 1073.3,810.3 1074.2,801.0"/>
<polygon points="903.0,733.4 889.3,736.8 890.2,727.5"/>
<polygon points="1575.7,801.0 1561.8,803.5 1563.3,794.3"/>
<polygon points="742.0,647.0 728.0,648.9 729.9,639.8"/>
<polygon points="2440.0,565.4 2426.2,568.4 2427.4,559.2"/>
<polygon points="492.8,570.0 505.5,563.9 506.5,573.2"/>
<polygon points="753.0,565.4 765.4,558.7 766.8,567.9"/>
<polygon points="971.1,558.0 982.8,550.1 985.2,559.2"/>
<polygon points="1146.4,558.0 1154.1,546.2 1159.8,553.6"/>
<polygon points="1372.3,565.4 1358.4,562.8 1363.0,554.7"/>
<polygon points="2027.0,720.6 2013.5,716.6 2019.0,709.0"/>
<polygon points="1620.8,565.4 1606.8,567.3 1608.7,558.2"/>
<polygon points="2470.0,721.6 2458.0,714.2 2465.3,708.3"/>
<polygon points="2462.4,800.0 2449.4,794.6 2455.6,787.7"/>
<polygon points="902.0,649.0 915.0,643.6 915.5,652.9"/>
<polygon points="1701.4,797.8 1713.6,790.8 1715.3,800.0"/>
<polygon points="2172.1,796.6 2158.1,794.8 2162.3,786.4"/>
<polygon points="1139.0,796.7 1145.2,784.0 1151.8,790.7"/>
<polygon points="2462.4,803.0 2448.5,800.6 2453.0,792.5"/>
<polygon points="1584.6,796.7 1570.6,795.1 1574.7,786.7"/>
<polygon points="1626.5,721.9 1632.8,709.3 1639.3,716.0"/>
<polygon points="1566.8,647.2 1575.8,636.5 1580.6,644.5"/>
<polygon points="1804.5,647.2 1790.7,644.7 1795.3,636.6"/>
<polygon points="1313.0,645.7 1325.8,639.8 1326.7,649.0"/>
<polygon points="2152.0,652.7 2138.1,655.2 2139.6,646.0"/>
<polygon points="1145.1,804.8 1157.6,798.2 1158.9,807.5"/>
<polygon points="2142.2,802.1 2128.4,805.1 2129.6,795.8"/>
<polygon points="1590.0,796.7 1576.0,795.4 1579.9,786.9"/>
<polygon points="1601.8,721.9 1589.4,715.2 1596.3,708.9"/>
<polygon points="1145.1,805.6 1157.7,799.4 1158.9,808.6"/>
<polygon points="1662.3,796.6 1671.8,786.1 1676.2,794.3"/>
<polygon points="1649.5,721.9 1660.5,713.0 1663.6,721.9"/>
<polygon points="1126.0,796.7 1128.8,782.9 1136.8,787.7"/>
<polygon points="973.4,725.3 985.1,717.4 987.5,726.4"/>
<polygon points="1576.2,797.5 1562.1,797.9 1564.9,789.0"/>
<polygon points="1546.7,721.9 1532.7,724.0 1534.5,714.8"/>
<polygon points="2462.4,801.0 2448.5,803.3 2450.1,794.1"/>
<polygon points="1145.1,806.3 1157.9,800.4 1158.8,809.7"/>
<polygon points="1701.4,799.4 1713.8,792.7 1715.3,802.0"/>
<polygon points="2197.4,721.9 2192.7,708.6 2202.0,708.5"/>
<polygon points="2440.0,721.6 2426.0,722.8 2428.3,713.8"/>
<polygon points="2462.4,806.5 2448.3,807.4 2450.9,798.4"/>
<polygon points="2197.4,796.6 2192.7,783.3 2202.1,783.3"/>
<polygon points="1701.4,803.7 1714.2,797.9 1715.1,807.2"/>
<polygon points="2489.3,796.6 2484.6,783.3 2494.0,783.2"/>
<polygon points="1109.0,796.7 1101.9,784.5 1111.1,782.8"/>
<polygon points="2032.6,571.5 2044.2,563.5 2046.7,572.5"/>
<polygon points="2787.6,566.0 2773.5,565.2 2777.1,556.6"/>
<polygon points="2516.0,797.0 2526.0,787.1 2530.0,795.5"/>
<polygon points="1688.0,796.6 1699.7,788.7 1702.0,797.8"/>
<polygon points="2518.0,799.0 2529.1,790.4 2532.1,799.2"/>
<polygon points="2159.3,565.4 2169.5,555.7 2173.3,564.3"/>
<polygon points="2466.2,565.4 2452.3,562.7 2457.0,554.6"/>
<polygon points="1758.2,567.8 1770.7,561.3 1772.0,570.6"/>
<polygon points="2511.0,721.6 2517.6,709.1 2523.9,716.0"/>
<polygon points="2828.3,566.0 2838.4,556.2 2842.3,564.7"/>
<polygon points="2516.0,808.5 2529.2,803.5 2529.4,812.8"/>
<polygon points="2253.0,806.5 2265.8,800.6 2266.7,810.0"/>
<polygon points="3326.6,565.4 3312.5,564.6 3316.1,556.0"/>
<polygon points="2560.6,568.0 2573.1,561.6 2574.4,570.9"/>
<polygon points="3153.4,558.0 3146.3,545.8 3155.5,544.1"/>
<polygon points="2991.8,558.0 3001.9,548.1 3005.8,556.6"/>
<polygon points="1103.0,796.7 1095.1,785.0 1104.2,782.7"/>
<polygon points="2252.6,807.0 2265.7,801.8 2266.1,811.1"/>
<polygon points="1696.6,796.6 1708.6,789.1 1710.6,798.3"/>
<polygon points="2218.7,647.2 2227.7,636.5 2232.5,644.5"/>
<polygon points="2487.0,721.6 2478.2,710.6 2487.0,707.5"/>
<polygon points="2879.6,475.9 2870.0,465.6 2878.6,461.8"/>
</g>
<g font-family="'Liberation Sans',Arial,Helvetica,sans-serif" font-size="13.33" text-anchor="middle" fill="#000">
<rect x="1427.8" y="5.8" width="182.0" height="40.0" fill="#bfbfbf" stroke="#000" stroke-width="1.25"/>
<text x="1518.8" y="22.3" textLength="159.1" lengthAdjust="spacingAndGlyphs">Bpp/PopGen/AbstractIData</text>
<text x="1518.8" y="36.9" textLength="45.1" lengthAdjust="spacingAndGlyphs">Set.cpp</text>
<rect x="530.3" y="95.2" width="135.0" height="25.3" fill="#fff" stroke="#000" stroke-width="1.25"/>
<text x="597.8" y="111.2" textLength="110.3" lengthAdjust="spacingAndGlyphs">AbstractIDataSet.h</text>
<rect x="554.3" y="169.9" width="86.3" height="25.3" fill="#fff" stroke="#000" stroke-width="1.25"/>
<text x="597.5" y="185.9" textLength="61.7" lengthAdjust="spacingAndGlyphs">IDataSet.h</text>
<rect x="1839.4" y="244.7" width="94.9" height="25.3" fill="#fff" stroke="#000" stroke-width="1.25"/>
<text x="1886.8" y="260.6" textLength="71.9" lengthAdjust="spacingAndGlyphs">IODataSet.h</text>
<rect x="1726.3" y="319.2" width="72.9" height="25.3" fill="#fff" stroke="#bfbfbf" stroke-width="1.25"/>
<text x="1762.8" y="335.2" textLength="49.8" lengthAdjust="spacingAndGlyphs">iostream</text>
<rect x="1823.2" y="319.2" width="126.9" height="25.3" fill="#fff" stroke="#bfbfbf" stroke-width="1.25"/>
<text x="1886.7" y="335.2" textLength="104.7" lengthAdjust="spacingAndGlyphs">Bpp/Io/IoFormat.h</text>
<rect x="1973.7" y="319.2" width="81.8" height="25.3" fill="#fff" stroke="#000" stroke-width="1.25"/>
<text x="2014.6" y="335.2" textLength="57.9" lengthAdjust="spacingAndGlyphs">DataSet.h</text>
<rect x="2080.1" y="319.2" width="66.7" height="25.3" fill="#fff" stroke="#bfbfbf" stroke-width="1.25"/>
<text x="2113.4" y="335.2" textLength="43.5" lengthAdjust="spacingAndGlyphs">fstream</text>
<rect x="1622.4" y="394.0" width="67.2" height="25.3" fill="#fff" stroke="#000" stroke-width="1.25"/>
<text x="1656.0" y="409.9" textLength="46.9" lengthAdjust="spacingAndGlyphs">Group.h</text>
<rect x="1977.4" y="394.0" width="74.8" height="25.3" fill="#fff" stroke="#bfbfbf" stroke-width="1.25"/>
<text x="2014.8" y="409.9" textLength="53.3" lengthAdjust="spacingAndGlyphs">algorithm</text>
<rect x="2773.1" y="394.0" width="152.2" height="25.3" fill="#fff" stroke="#000" stroke-width="1.25"/>
<text x="2849.2" y="409.9" textLength="129.4" lengthAdjust="spacingAndGlyphs">AnalyzedSequences.h</text>
<rect x="1193.2" y="475.9" width="87.9" height="25.3" fill="#fff" stroke="#000" stroke-width="1.25"/>
<text x="1237.2" y="491.8" textLength="65.5" lengthAdjust="spacingAndGlyphs">Individual.h</text>
<rect x="1508.0" y="468.5" width="173.4" height="40.0" fill="#fff" stroke="#bfbfbf" stroke-width="1.25"/>
<text x="1594.7" y="485.0" textLength="152.7" lengthAdjust="spacingAndGlyphs">Bpp/Seq/Container/Vector</text>
<text x="1594.7" y="499.6" textLength="125.9" lengthAdjust="spacingAndGlyphs">SequenceContainer.h</text>
<rect x="2228.3" y="475.9" width="210.1" height="25.3" fill="#fff" stroke="#000" stroke-width="1.25"/>
<text x="2333.4" y="491.8" textLength="186.7" lengthAdjust="spacingAndGlyphs">PolymorphismMultiGContainer.h</text>
<rect x="2788.2" y="475.9" width="194.0" height="25.3" fill="#fff" stroke="#bfbfbf" stroke-width="1.25"/>
<text x="2885.2" y="491.8" textLength="173.8" lengthAdjust="spacingAndGlyphs">Bpp/Seq/Alphabet/Alphabet.h</text>
<rect x="3025.3" y="475.9" width="229.3" height="25.3" fill="#fff" stroke="#000" stroke-width="1.25"/>
<text x="3139.9" y="491.8" textLength="207.8" lengthAdjust="spacingAndGlyphs">PolymorphismSequenceContainer.h</text>
<rect x="347.3" y="565.4" width="145.5" height="25.3" fill="#fff" stroke="#bfbfbf" stroke-width="1.25"/>
<text x="420.1" y="581.3" textLength="124.6" lengthAdjust="spacingAndGlyphs">Bpp/Seq/Sequence.h</text>
<rect x="567.9" y="565.4" width="210.7" height="25.3" fill="#fff" stroke="#bfbfbf" stroke-width="1.25"/>
<text x="673.2" y="581.3" textLength="187.9" lengthAdjust="spacingAndGlyphs">Bpp/Seq/SequenceExceptions.h</text>
<rect x="803.2" y="558.0" width="182.8" height="40.0" fill="#fff" stroke="#bfbfbf" stroke-width="1.25"/>
<text x="894.6" y="574.5" textLength="163.6" lengthAdjust="spacingAndGlyphs">Bpp/Seq/Container/Ordered</text>
<text x="894.6" y="589.1" textLength="125.9" lengthAdjust="spacingAndGlyphs">SequenceContainer.h</text>
<rect x="1010.3" y="558.0" width="219.9" height="40.0" fill="#fff" stroke="#bfbfbf" stroke-width="1.25"/>
<text x="1120.2" y="574.5" textLength="200.3" lengthAdjust="spacingAndGlyphs">Bpp/Seq/Container/MapSequence</text>
<text x="1120.2" y="589.1" textLength="67.0" lengthAdjust="spacingAndGlyphs">Container.h</text>
<rect x="1355.8" y="565.4" width="77.5" height="25.3" fill="#fff" stroke="#000" stroke-width="1.25"/>
<text x="1394.5" y="581.3" textLength="54.9" lengthAdjust="spacingAndGlyphs">Locality.h</text>
<rect x="1609.7" y="565.4" width="148.5" height="25.3" fill="#fff" stroke="#000" stroke-width="1.25"/>
<text x="1684.0" y="581.3" textLength="124.9" lengthAdjust="spacingAndGlyphs">MultilocusGenotype.h</text>
<rect x="1985.8" y="565.4" width="46.8" height="25.3" fill="#fff" stroke="#bfbfbf" stroke-width="1.25"/>
<text x="2009.2" y="581.3" textLength="25.7" lengthAdjust="spacingAndGlyphs">map</text>
<rect x="2056.5" y="565.4" width="148.2" height="25.3" fill="#fff" stroke="#bfbfbf" stroke-width="1.25"/>
<text x="2130.6" y="581.3" textLength="125.6" lengthAdjust="spacingAndGlyphs">Bpp/Utils/MapTools.h</text>
<rect x="2280.1" y="565.4" width="111.5" height="25.3" fill="#fff" stroke="#000" stroke-width="1.25"/>
<text x="2335.8" y="581.3" textLength="88.2" lengthAdjust="spacingAndGlyphs">AnalyzedLoci.h</text>
<rect x="2415.5" y="565.4" width="145.1" height="25.3" fill="#fff" stroke="#bfbfbf" stroke-width="1.25"/>
<text x="2488.1" y="581.3" textLength="124.1" lengthAdjust="spacingAndGlyphs">Bpp/Text/TextTools.h</text>
<rect x="2787.6" y="565.4" width="40.7" height="25.3" fill="#fff" stroke="#bfbfbf" stroke-width="1.25"/>
<text x="2807.9" y="581.3" textLength="17.5" lengthAdjust="spacingAndGlyphs">set</text>
<rect x="2851.9" y="558.0" width="194.6" height="40.0" fill="#fff" stroke="#bfbfbf" stroke-width="1.25"/>
<text x="2949.2" y="574.5" textLength="174.1" lengthAdjust="spacingAndGlyphs">Bpp/Seq/Container/Sequence</text>
<text x="2949.2" y="589.1" textLength="98.7" lengthAdjust="spacingAndGlyphs">ContainerTools.h</text>
<rect x="3070.4" y="558.0" width="173.8" height="40.0" fill="#fff" stroke="#bfbfbf" stroke-width="1.25"/>
<text x="3157.3" y="574.5" textLength="152.7" lengthAdjust="spacingAndGlyphs">Bpp/Seq/Container/Vector</text>
<text x="3157.3" y="589.1" textLength="89.6" lengthAdjust="spacingAndGlyphs">SiteContainer.h</text>
<rect x="3267.7" y="565.4" width="179.2" height="25.3" fill="#fff" stroke="#bfbfbf" stroke-width="1.25"/>
<text x="3357.3" y="581.3" textLength="159.0" lengthAdjust="spacingAndGlyphs">Bpp/Text/StringTokenizer.h</text>
<rect x="739.1" y="647.2" width="161.9" height="25.3" fill="#fff" stroke="#bfbfbf" stroke-width="1.25"/>
<text x="820.0" y="663.2" textLength="141.0" lengthAdjust="spacingAndGlyphs">Bpp/Graphics/Point2D.h</text>
<rect x="1128.6" y="647.2" width="182.9" height="25.3" fill="#fff" stroke="#000" stroke-width="1.25"/>
<text x="1220.0" y="663.2" textLength="161.6" lengthAdjust="spacingAndGlyphs">MonolocusGenotypeTools.h</text>
<rect x="1437.1" y="647.2" width="216.5" height="25.3" fill="#fff" stroke="#000" stroke-width="1.25"/>
<text x="1545.3" y="663.2" textLength="194.0" lengthAdjust="spacingAndGlyphs">MonoAlleleMonolocusGenotype.h</text>
<rect x="1728.4" y="647.2" width="196.3" height="25.3" fill="#fff" stroke="#000" stroke-width="1.25"/>
<text x="1826.6" y="663.2" textLength="173.3" lengthAdjust="spacingAndGlyphs">BiAlleleMonolocusGenotype.h</text>
<rect x="2152.0" y="647.2" width="90.5" height="25.3" fill="#fff" stroke="#000" stroke-width="1.25"/>
<text x="2197.2" y="663.2" textLength="67.1" lengthAdjust="spacingAndGlyphs">LocusInfo.h</text>
<rect x="904.0" y="721.9" width="69.4" height="25.3" fill="#fff" stroke="#bfbfbf" stroke-width="1.25"/>
<text x="938.7" y="737.8" textLength="46.7" lengthAdjust="spacingAndGlyphs">memory</text>
<rect x="1537.4" y="721.9" width="151.9" height="25.3" fill="#fff" stroke="#000" stroke-width="1.25"/>
<text x="1613.3" y="737.8" textLength="129.8" lengthAdjust="spacingAndGlyphs">MonolocusGenotype.h</text>
<rect x="2017.3" y="721.9" width="61.2" height="25.3" fill="#fff" stroke="#000" stroke-width="1.25"/>
<text x="2047.9" y="737.8" textLength="37.8" lengthAdjust="spacingAndGlyphs">Date.h</text>
<rect x="2154.0" y="721.9" width="86.8" height="25.3" fill="#fff" stroke="#000" stroke-width="1.25"/>
<text x="2197.4" y="737.8" textLength="63.6" lengthAdjust="spacingAndGlyphs">AlleleInfo.h</text>
<rect x="2417.6" y="721.9" width="143.3" height="25.3" fill="#fff" stroke="#000" stroke-width="1.25"/>
<text x="2489.2" y="737.8" textLength="119.9" lengthAdjust="spacingAndGlyphs">GeneralExceptions.h</text>
<rect x="1086.6" y="796.6" width="58.5" height="25.3" fill="#fff" stroke="#bfbfbf" stroke-width="1.25"/>
<text x="1115.8" y="812.5" textLength="35.7" lengthAdjust="spacingAndGlyphs">vector</text>
<rect x="1576.2" y="796.6" width="125.2" height="25.3" fill="#fff" stroke="#bfbfbf" stroke-width="1.25"/>
<text x="1638.8" y="812.5" textLength="101.5" lengthAdjust="spacingAndGlyphs">Bpp/Exceptions.h</text>
<rect x="2142.2" y="796.6" width="110.4" height="25.3" fill="#fff" stroke="#bfbfbf" stroke-width="1.25"/>
<text x="2197.4" y="812.5" textLength="89.4" lengthAdjust="spacingAndGlyphs">Bpp/Clonable.h</text>
<rect x="2462.4" y="796.6" width="53.9" height="25.3" fill="#fff" stroke="#bfbfbf" stroke-width="1.25"/>
<text x="2489.4" y="812.5" textLength="32.2" lengthAdjust="spacingAndGlyphs">string</text>
</g></svg>
</body></html>
